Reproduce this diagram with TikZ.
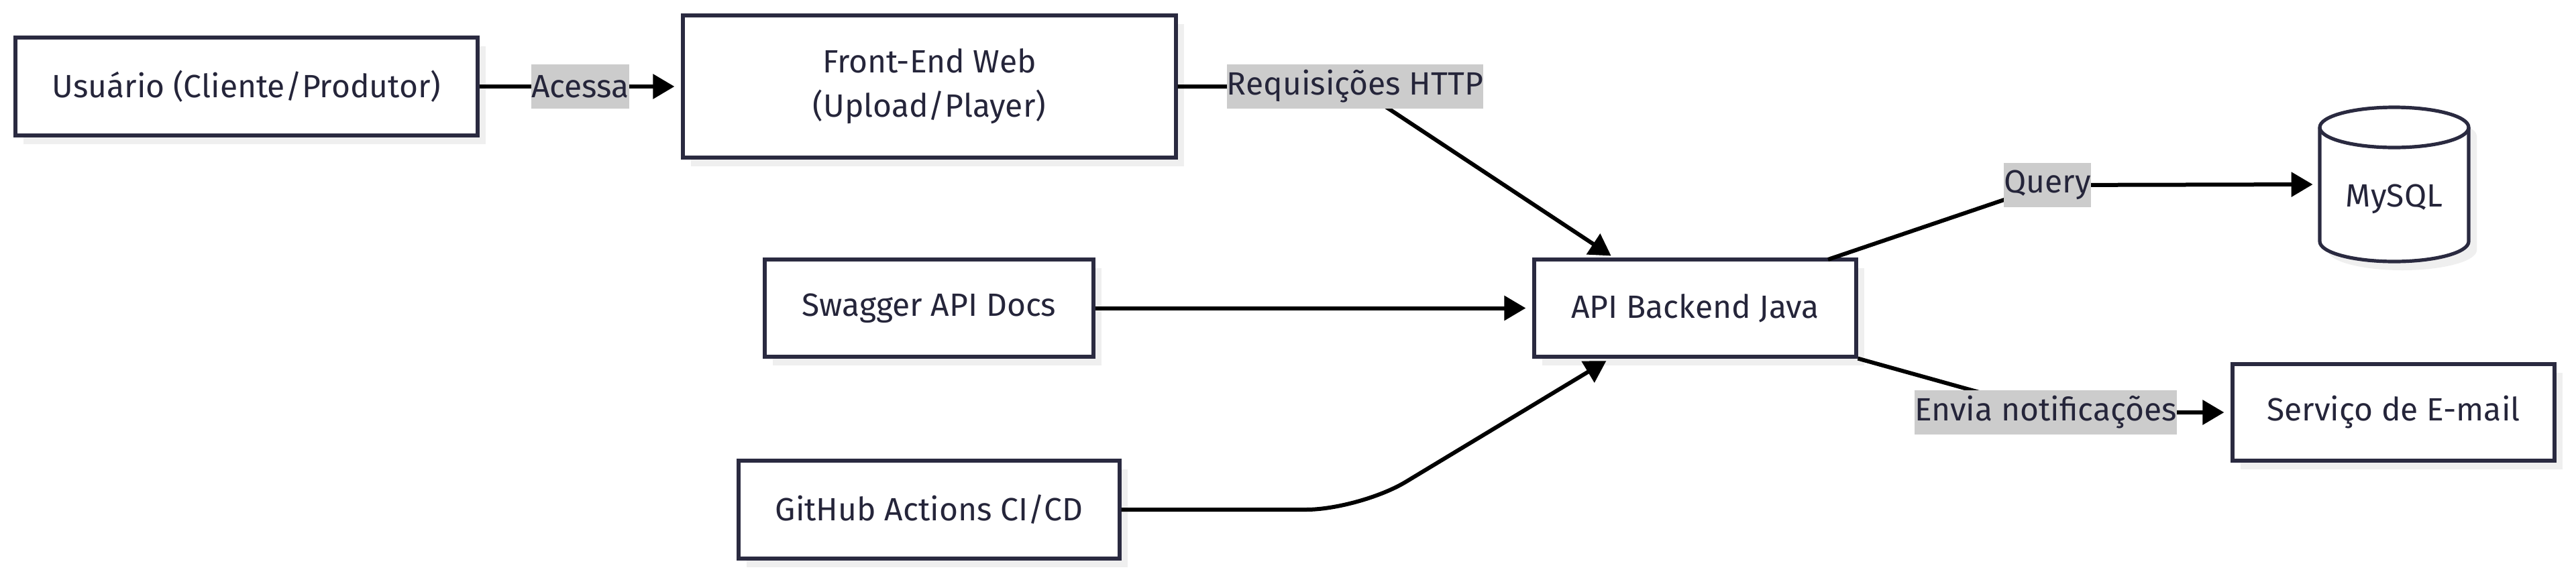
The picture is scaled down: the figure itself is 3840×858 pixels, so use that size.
\documentclass[tikz,border=0pt]{standalone}
\usepackage{fontspec}
\setmainfont{Fira Sans}
\usetikzlibrary{arrows.meta,shadows}
\definecolor{bord}{HTML}{2A2A40}
\definecolor{txt}{HTML}{25253A}
\definecolor{lblbg}{HTML}{CCCCCC}
\definecolor{shad}{HTML}{EFEFEF}
\begin{document}
\begin{tikzpicture}[x=0.5pt,y=-0.5pt,
  shadowed/.style={drop shadow={shadow xshift=6pt, shadow yshift=-6.5pt, fill=shad, opacity=1}},
  box/.style={draw=bord, line width=2.6pt, fill=white, text=txt,
    font=\fontsize{24}{33}\selectfont, align=center, inner sep=0pt, shadowed},
  lbl/.style={fill=lblbg, text=txt, font=\fontsize{24}{33}\selectfont,
    inner xsep=0pt, inner ysep=0pt, minimum height=33pt},
  conn/.style={line width=3pt, -{Triangle[length=16pt,width=18pt]}, shorten >=5pt}]
\path[use as bounding box, fill=white] (0,0) rectangle (3840,858);

\node[box, minimum width=344.5pt, minimum height=73pt] (user) at (367.5,129) {Usuário (Cliente/Produtor)};
\node[box, minimum width=367.5pt, minimum height=106pt] (front) at (1385.5,129) {Front-End Web\\(Upload/Player)};
\node[box, minimum width=245pt, minimum height=72.5pt] (swagger) at (1385,459.5) {Swagger API Docs};
\node[box, minimum width=240pt, minimum height=72.5pt] (api) at (2527,459.5) {API Backend Java};
\node[box, minimum width=284pt, minimum height=73pt] (github) at (1385,760) {GitHub Actions CI/CD};
\node[box, minimum width=240pt, minimum height=72pt] (email) at (3568,615) {Serviço de E-mail};

% MySQL cylinder
\path[fill=white, draw=bord, line width=2.6pt, shadowed]
  (3458,190) -- (3458,360) arc[start angle=180, end angle=360, x radius=55.5pt, y radius=15pt]
  -- (3680,190) arc[start angle=0, end angle=180, x radius=55.5pt, y radius=15pt] -- cycle;
\draw[draw=bord, line width=2.6pt] (3458,190) arc[start angle=180, end angle=360, x radius=55.5pt, y radius=15pt];
\node[minimum width=111pt, minimum height=115pt, inner sep=0pt] (mysql) at (3569,275) {};
\node[text=txt, font=\fontsize{24}{33}\selectfont] (mysqltext) at (3569,297) {MySQL};

% connectors
\coordinate (c1) at (2020,129);
\coordinate (apiT1) at (2410,387);
\coordinate (c2) at (2027,760);
\coordinate (apiB) at (2403,533);
\coordinate (apiT2) at (2725,387);
\coordinate (c3) at (3052,276);
\coordinate (c4) at (3058,615);

\draw[conn] (user) -- node[lbl] (lacc) {Acessa} (front);
\draw[conn] (front.east) -- (c1) -- (apiT1);
\node[lbl] (lreq) at (c1) {Requisições HTTP};
\draw[conn] (swagger) -- (api);
\draw[conn, rounded corners=40pt] (github.east) -- (c2) -- (apiB);
\draw[conn] (apiT2) -- (c3) -- (mysql.west);
\node[lbl] (lq) at (c3) {Query};
\draw[conn] (api.south east) -- (c4) -- (email.west);
\node[lbl] (lenv) at (3049.5,615) {Envia notificações};
\end{tikzpicture}
\end{document}
